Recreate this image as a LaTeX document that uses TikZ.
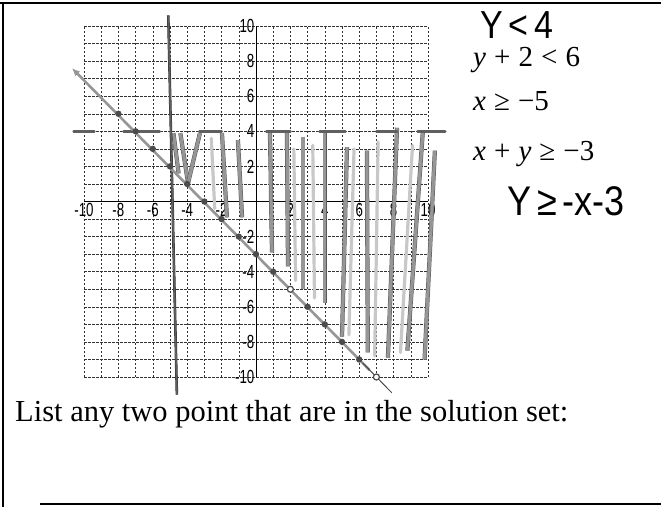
\documentclass[tikz,border=0pt]{standalone}
\usepackage{fontspec}
\usepackage{graphicx}
\setmainfont{Liberation Serif}
\newfontfamily\handfont{Liberation Sans}
\newfontfamily\ticksf{Liberation Sans}
\usetikzlibrary{arrows.meta}
\definecolor{PencilGray}{RGB}{95,95,95}
\definecolor{ShadeGray}{RGB}{150,150,150}
\definecolor{LightShade}{RGB}{200,200,200}
\newcommand{\tickno}[1]{{\ticksf\fontsize{19}{19}\selectfont\scalebox{0.7}[1]{#1}}}
\newcommand{\handtext}[1]{\scalebox{1}[1.15]{#1}}

\begin{document}
\begin{tikzpicture}[x=1pt,y=-1pt,>=Latex,
    gridline/.style={black!80,line width=0.5pt,dash pattern=on 2.5pt off 1.5pt},
    axisline/.style={black,line width=0.9pt},
    pencil/.style={PencilGray,line width=2.8pt,line cap=round},
    shade/.style={black!65,line width=0.5pt,double=ShadeGray,double distance=3.2pt},
    softshade/.style={LightShade,line width=3.2pt,line cap=round},
    xtick/.style={anchor=north,inner sep=1.5pt},
    ytick/.style={anchor=east,inner sep=1.5pt},
    ineq/.style={anchor=base west,inner sep=0pt,font=\fontsize{29}{29}\selectfont},
    hand/.style={anchor=base west,inner sep=0pt,font=\handfont\fontsize{34}{34}\selectfont}]
  \useasboundingbox (0,0) rectangle (661,507);

  % page frame
  \draw[line width=1.6pt] (0,3) -- (661,3);
  \draw[line width=1.2pt] (3,3) -- (3,507);
  \draw[line width=1.2pt] (40,504) -- (661,504);

  % coordinate grid
  \begin{scope}[shift={(256,201.5)},x=17.2pt,y=17.55pt]
    \foreach \k in {-10,...,10}{
      \draw[gridline] (\k,-10) -- (\k,10);
      \draw[gridline] (-10,\k) -- (10,\k);
    }
    \draw[axisline] (-10,0) -- (10,0);
    \draw[axisline] (0,-10) -- (0,10);
    \foreach \k in {-10,-8,-6,-4,-2,2,4,6,8,10}{
      \node[xtick] (xl\k) at (\k,0) {\tickno{\k}};
      \node[ytick] (yl\k) at (0,\k) {\tickno{\k}};
    }

    % shading of the solution region
    \foreach \a/\b/\c/\d in {-2.6/3.6/-2.4/-0.4, 2.2/3.0/2.3/-4.5,
        3.3/3.2/3.4/-5.5, 5.7/3.0/5.4/-7.6, 7.1/3.4/6.9/-8.8, 9.1/3.2/8.4/-8.6}
      \draw[softshade] (\a,\b) -- (\c,\d);
    \foreach \a/\b/\c/\d in {-4.8/3.9/-4.5/1.6, -4.4/3.9/-3.95/1.05,
        -3.95/1.05/-3.26/3.9, -1.98/3.9/-1.69/-0.9, -1.05/3.5/-0.81/-0.9,
        0.81/4.0/0.93/-2.9, 1.8/3.9/1.86/-3.7, 2.73/3.7/2.73/-5.0,
        4.0/3.9/4.0/-5.8, 5.29/3.1/5.0/-7.7, 6.45/2.9/6.5/-8.6,
        8.2/4.2/7.67/-8.9, 9.7/4.0/8.8/-8.5, 10.4/2.9/9.8/-9.0}
      \draw[shade] (\a,\b) -- (\c,\d);

    % boundary y = 4
    \foreach \a/\b in {-10.6/-9.4, -7.7/-5.6, -3.3/-2.0, 0.6/2.0,
        3.7/5.2, 7.0/8.2, 9.4/11.0}
      \draw[pencil] (\a,4) -- (\b,4);

    % boundary x = -5
    \draw[black!80,line width=0.5pt,double=PencilGray,double distance=1.6pt]
      (-5.1,10.6) -- (-4.6,-11);

    % boundary y = -x-3
    \draw[ShadeGray,line width=2.6pt,{Latex[length=8pt,width=7pt]}-]
      (-10.7,7.6) -- (6.6,-9.6);
    \draw[black!80,line width=0.8pt] (6.2,-9.2) -- (7.9,-10.9);
    \foreach \k in {-8,...,7}
      \fill[black!70] ({\k},{-(\k)-3}) circle (3.2pt);
    \foreach \k in {2,7}
      \draw[black!70,fill=white,line width=1.2pt] ({\k},{-(\k)-3}) circle (3pt);
  \end{scope}

  % inequalities
  \node[hand] (handA) at (480,38) {\handtext{Y\,<\,4}};
  \node[ineq] (ineqA) at (473,66) {\textit{y}\;+\;2\;<\;6};
  \node[ineq] (ineqB) at (473,110) {\textit{x}\;≥\;−5};
  \node[ineq] (ineqC) at (473,160) {\textit{x}\;+\;\textit{y}\;≥\;−3};
  \node[hand,font=\handfont\fontsize{36}{36}\selectfont] (handB) at (507,215)
    {\handtext{Y\,≥\,-x-3}};

  \node[anchor=base west,inner sep=0pt,font=\fontsize{30.5}{30.5}\selectfont]
    (prompt) at (15,421) {List any two point that are in the solution set:};
\end{tikzpicture}
\end{document}
